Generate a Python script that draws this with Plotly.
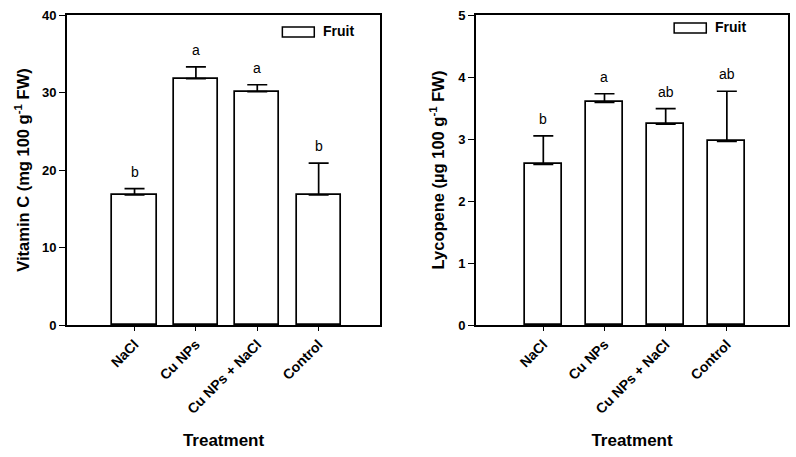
import plotly.graph_objects as go
from plotly.subplots import make_subplots

categories = ["NaCl", "Cu NPs", "Cu NPs + NaCl", "Control"]
vitc_mean = [16.8, 31.8, 30.1, 16.8]
vitc_sd = [0.8, 1.5, 0.9, 4.1]
vitc_letters = ["b", "a", "a", "b"]
lyc_mean = [2.59, 3.59, 3.24, 2.96]
lyc_sd = [0.46, 0.14, 0.25, 0.81]
lyc_letters = ["b", "a", "ab", "ab"]

FONT = "Liberation Sans, Arial, sans-serif"

fig = make_subplots(rows=1, cols=2)

def add_panel(col, mean, sd, letters, width, leg):
    xs = list(range(len(categories)))
    fig.add_trace(go.Bar(
        x=xs, y=mean, width=width,
        marker=dict(color="white", line=dict(color="black", width=1.7)),
        error_y=dict(type="data", symmetric=False, array=sd,
                     arrayminus=[0] * len(sd), color="black",
                     thickness=1.7, width=10),
        showlegend=False, name="Fruit"), row=1, col=col)
    xref = "x" if col == 1 else "x2"
    yref = "y" if col == 1 else "y2"
    for i, (m, s, l) in enumerate(zip(mean, sd, letters)):
        fig.add_annotation(x=i, y=m + s, xref=xref, yref=yref, text=l,
                           showarrow=False, yanchor="bottom", yshift=7,
                           font=dict(family=FONT, size=14, color="black"))
    x0, x1, y0, y1, tx, ty = leg
    fig.add_shape(type="rect", xref=f"{xref} domain", yref=f"{yref} domain",
                  x0=x0, x1=x1, y0=y0, y1=y1,
                  line=dict(color="black", width=1.5), fillcolor="white")
    fig.add_annotation(xref=f"{xref} domain", yref=f"{yref} domain",
                       x=tx, y=ty, xanchor="left", yanchor="middle", showarrow=False,
                       text="<b>Fruit</b>",
                       font=dict(family=FONT, size=14, color="black"))

add_panel(1, vitc_mean, vitc_sd, vitc_letters, 0.72,
          (0.688, 0.79, 0.929, 0.961, 0.81, 0.947))
add_panel(2, lyc_mean, lyc_sd, lyc_letters, 0.6,
          (0.635, 0.738, 0.942, 0.974, 0.76, 0.96))

axis_common = dict(showline=True, linecolor="black", linewidth=1.7, mirror=True,
                   showgrid=False, zeroline=False)

for c, dom in [(1, [0.0842, 0.4774]), (2, [0.598, 0.990])]:
    fig.update_xaxes(**axis_common, domain=dom, range=[-1.1, 4.0],
                     tickmode="array", tickvals=list(range(4)),
                     ticktext=[f"<b>{t}</b>" for t in categories],
                     tickfont=dict(family=FONT, size=14, color="black"),
                     tickangle=-45, ticks="outside", ticklen=4, tickwidth=1.3,
                     tickcolor="black",
                     title=dict(text="<b>Treatment</b>", standoff=18,
                                font=dict(family=FONT, size=17, color="black")),
                     row=1, col=c)

fig.update_yaxes(**axis_common, range=[0, 40], tickvals=[0, 10, 20, 30, 40],
                 ticktext=["<b>%d</b>" % v for v in [0, 10, 20, 30, 40]],
                 tickfont=dict(family=FONT, size=13, color="black"),
                 ticks="outside", ticklen=6, tickwidth=1.3, tickcolor="black",
                 title=dict(text="<b>Vitamin C (mg 100 g<sup>-1</sup> FW)</b>", standoff=8,
                            font=dict(family=FONT, size=16.5, color="black")),
                 row=1, col=1)
fig.update_yaxes(**axis_common, range=[0, 5], tickvals=[0, 1, 2, 3, 4, 5],
                 ticktext=["<b>%d</b>" % v for v in range(6)],
                 tickfont=dict(family=FONT, size=13, color="black"),
                 ticks="outside", ticklen=6, tickwidth=1.3, tickcolor="black",
                 title=dict(text="<b>Lycopene (µg 100 g<sup>-1</sup> FW)</b>", standoff=10,
                            font=dict(family=FONT, size=16.5, color="black")),
                 row=1, col=2)

fig.update_layout(width=796, height=457, margin=dict(l=0, r=0, t=15, b=132),
                  plot_bgcolor="white", paper_bgcolor="white",
                  bargap=0, showlegend=False)

fig.write_html("out.html", config={"displayModeBar": False},
               post_script="document.body.style.margin='0';document.body.style.overflow='hidden';")
